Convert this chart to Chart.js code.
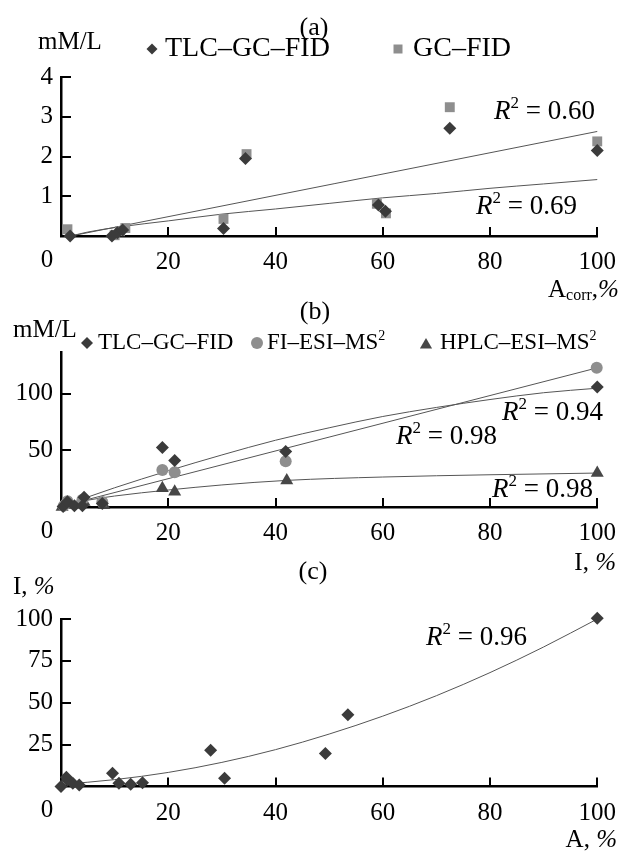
<!DOCTYPE html>
<html>
<head>
<meta charset="utf-8">
<script src="https://cdn.jsdelivr.net/npm/chart.js@4.4.1/dist/chart.umd.min.js"></script>
<style>
  html, body { margin: 0; padding: 0; background: #fff; }
  body { width: 630px; height: 853px; position: relative; overflow: hidden; }
  canvas { position: absolute; left: 0; }
</style>
</head>
<body>
<canvas id="chartA" width="630" height="305" style="top:0px"></canvas>
<canvas id="chartB" width="630" height="285" style="top:298px"></canvas>
<canvas id="chartC" width="630" height="293" style="top:560px"></canvas>
<script>
// ---- panel (a): mM/L vs A_corr, % ----
const aTlcX = [1.7, 9.5, 10.5, 11.5, 30.3, 34.4, 59.2, 60.5, 72.5, 100];
const aTlcY = [0.0, 0.0, 0.08, 0.15, 0.19, 1.95, 0.78, 0.62, 2.71, 2.15];
const aGcX = [1.2, 10, 11, 12, 30.3, 34.6, 58.9, 60.6, 72.5, 100];
const aGcY = [0.17, 0.02, 0.12, 0.2, 0.43, 2.06, 0.81, 0.57, 3.24, 2.38];
const aFitUpX = [1.85, 100];
const aFitUpY = [0.0, 2.63];
const aFitLowX = [1.85, 5, 11, 20, 30, 40, 50, 60, 70, 80, 90, 100];
const aFitLowY = [0.0, 0.1, 0.23, 0.38, 0.55, 0.68, 0.82, 0.96, 1.07, 1.2, 1.31, 1.42];
const aYTicks = [1, 2, 3, 4];

// ---- panel (b): mM/L vs I, % ----
const bTlcX = [0.4, 1.2, 2.5, 4.3, 4.0, 7.7, 18.9, 21.2, 41.9, 100];
const bTlcY = [0.5, 4.7, 1.0, 8.6, 1.0, 3.0, 52.6, 41.0, 49.0, 106];
const bFiX = [0.5, 1.2, 4.0, 7.7, 18.9, 21.2, 41.9, 99.9];
const bFiY = [1.0, 5.0, 6.5, 4.4, 32.7, 30.7, 40.4, 123];
const bHplcX = [0.2, 1.0, 4.3, 8.0, 18.9, 21.2, 42.1, 100];
const bHplcY = [0.0, 2.0, 4.4, 1.5, 16.5, 13.5, 23.4, 30];
const bFitTlcX = [0.3, 10, 20, 30, 40, 50, 60, 70, 80, 90, 100];
const bFitTlcY = [0.9, 17, 32, 46, 59, 70, 80, 88, 95, 101, 105];
const bFitFiX = [0.3, 100];
const bFitFiY = [0.9, 123];
const bFitHplcX = [0.3, 5, 10, 20, 30, 42, 60, 80, 100];
const bFitHplcY = [0.9, 6, 9.7, 15, 19.5, 23.5, 26.5, 28.5, 30];
const bYTicks = [50, 100];

// ---- panel (c): I, % vs A, % ----
const cX = [0, 1.0, 1.2, 2.2, 3.4, 9.6, 10.8, 13.0, 15.2, 27.9, 30.5, 49.3, 53.5, 100];
const cY = [0, 5.5, 3.9, 1.9, 0.9, 7.9, 1.9, 1.3, 2.3, 21.7, 4.9, 19.7, 42.9, 100.4];
const cFitX = [0, 10, 20, 30, 40, 50, 60, 70, 80, 90, 100];
const cFitY = [1.2, 4.1, 8.4, 14.4, 22, 31.3, 42, 54.2, 68, 83.3, 100];
const cYTicks = [25, 50, 75, 100];

const xTicks = [0, 20, 40, 60, 80, 100];

const FONT = '"Liberation Serif", "Times New Roman", serif';
const DARK = '#3b3b3b';
const GRAY = '#8e8e8e';
const LINE = '#555555';

function pts(xs, ys) {
  return xs.map((x, i) => ({ x: x, y: ys[i] }));
}

function markers(label, xs, ys, style, radius, color) {
  return {
    label: label,
    data: pts(xs, ys),
    pointStyle: style,
    pointRadius: radius,
    backgroundColor: color,
    borderColor: color,
    borderWidth: 0,
    showLine: false,
    clip: false,
    order: 0,
  };
}

function fitLine(xs, ys) {
  return {
    data: pts(xs, ys),
    showLine: true,
    pointRadius: 0,
    borderColor: LINE,
    borderWidth: 1,
    cubicInterpolationMode: "monotone",
    clip: false,
    order: 1,
  };
}

// rich text: italic, superscript, subscript pieces
function rich(ctx, x, y, parts, size, align) {
  let total = 0;
  const items = parts.map((p) => {
    const s = p.sup || p.sub ? Math.round(size * 0.62) : size;
    const f = (p.i ? "italic " : "") + s + "px " + FONT;
    ctx.font = f;
    const w = ctx.measureText(p.t).width;
    total += w;
    return { t: p.t, f: f, w: w, dy: p.sup ? -size * 0.3 : p.sub ? size * 0.25 : 0 };
  });
  let cx = align === "center" ? x - total / 2 : align === "right" ? x - total : x;
  ctx.textAlign = "left";
  ctx.textBaseline = "middle";
  ctx.fillStyle = "#000";
  items.forEach((it) => {
    ctx.font = it.f;
    ctx.fillText(it.t, cx, y + it.dy);
    cx += it.w;
  });
}

function r2(ctx, x, y, val, size) {
  rich(ctx, x, y, [{ t: "R", i: true }, { t: "2", sup: true }, { t: " = " + val }], size);
}

function marker(ctx, style, x, y, r, color) {
  ctx.save();
  ctx.fillStyle = color;
  ctx.beginPath();
  if (style === "rectRot") {
    ctx.moveTo(x - r, y); ctx.lineTo(x, y - r); ctx.lineTo(x + r, y); ctx.lineTo(x, y + r);
  } else if (style === "rect") {
    ctx.rect(x - r, y - r, 2 * r, 2 * r);
  } else if (style === "circle") {
    ctx.arc(x, y, r, 0, Math.PI * 2);
  } else if (style === "triangle") {
    ctx.moveTo(x, y - r); ctx.lineTo(x + r * 0.87, y + r * 0.5); ctx.lineTo(x - r * 0.87, y + r * 0.5);
  }
  ctx.closePath();
  ctx.fill();
  ctx.restore();
}

// inward tick marks plus the offset "0" at the origin
const inwardTicks = {
  id: "inwardTicks",
  afterDraw(chart) {
    const { ctx, chartArea } = chart;
    const xs = chart.scales.x;
    const ys = chart.scales.y;
    ctx.save();
    ctx.strokeStyle = "#000";
    ctx.lineWidth = 2;
    ctx.beginPath();
    xs.ticks.forEach((t) => {
      if (t.value === 0) return;
      const px = Math.round(xs.getPixelForValue(t.value));
      ctx.moveTo(px, chartArea.bottom);
      ctx.lineTo(px, chartArea.bottom - 9);
    });
    ys.ticks.forEach((t) => {
      if (t.value === 0) return;
      const py = Math.round(ys.getPixelForValue(t.value));
      ctx.moveTo(chartArea.left, py);
      ctx.lineTo(chartArea.left + 10, py);
    });
    ctx.stroke();
    ctx.fillStyle = "#000";
    ctx.font = "25px " + FONT;
    ctx.textAlign = "center";
    ctx.textBaseline = "middle";
    ctx.fillText("0", xs.getPixelForValue(0) - 14, chartArea.bottom + 24);
    ctx.restore();
  },
};

function makeChart(id, datasets, yMin, yMax, yTicks, padding, notes) {
  const ctx = document.getElementById(id).getContext("2d");
  return new Chart(ctx, {
    type: "scatter",
    data: { datasets: datasets },
    options: {
      responsive: false,
      animation: false,
      events: [],
      layout: { padding: padding },
      plugins: { legend: { display: false }, tooltip: { enabled: false } },
      scales: {
        x: {
          type: "linear",
          min: 0,
          max: 100,
          afterBuildTicks: (s) => { s.ticks = xTicks.map((v) => ({ value: v })); },
          afterFit: (s) => { s.height = 40; },
          ticks: {
            color: "#000",
            padding: 14,
            maxRotation: 0,
            font: { family: FONT, size: 25, lineHeight: 1 },
            callback: (v) => (v === 0 ? "" : v),
          },
          grid: { display: true, drawOnChartArea: false, drawTicks: false },
          border: { display: true, color: "#000", width: 2.5 },
        },
        y: {
          type: "linear",
          min: yMin,
          max: yMax,
          afterBuildTicks: (s) => { s.ticks = yTicks.map((v) => ({ value: v })); },
          afterFit: (s) => { s.width = 61; },
          ticks: {
            color: "#000",
            padding: 8,
            font: { family: FONT, size: 25, lineHeight: 1 },
          },
          grid: { display: true, drawOnChartArea: false, drawTicks: false },
          border: { display: true, color: "#000", width: 2.5 },
        },
      },
    },
    plugins: [inwardTicks, { id: "notes", afterDraw: (chart) => notes(chart.ctx) }],
  });
}

makeChart(
  "chartA",
  [
    markers("TLC–GC–FID", aTlcX, aTlcY, "rectRot", 6.5, DARK),
    markers("GC–FID", aGcX, aGcY, "rect", 7, GRAY),
    fitLine(aFitUpX, aFitUpY),
    fitLine(aFitLowX, aFitLowY),
  ],
  0, 4, aYTicks,
  { top: 77, right: 31, bottom: 29, left: 0 },
  (ctx) => {
    rich(ctx, 314, 28, [{ t: "(a)" }], 26, "center");
    rich(ctx, 38, 42, [{ t: "mM/L" }], 25);
    marker(ctx, "rectRot", 152, 49, 5.5, DARK);
    rich(ctx, 165, 49, [{ t: "TLC–GC–FID" }], 28);
    marker(ctx, "rect", 398, 49, 4.5, GRAY);
    rich(ctx, 413, 49, [{ t: "GC–FID" }], 28);
    r2(ctx, 494, 112, "0.60", 27);
    r2(ctx, 476, 207, "0.69", 27);
    rich(ctx, 548, 290, [{ t: "A" }, { t: "corr", sub: true }, { t: "," }, { t: "%", i: true }], 25);
  }
);

makeChart(
  "chartB",
  [
    markers("TLC–GC–FID", bTlcX, bTlcY, "rectRot", 6.5, DARK),
    markers("FI–ESI–MS2", bFiX, bFiY, "circle", 6, GRAY),
    markers("HPLC–ESI–MS2", bHplcX, bHplcY, "triangle", 7.5, "#474747"),
    fitLine(bFitTlcX, bFitTlcY),
    fitLine(bFitFiX, bFitFiY),
    fitLine(bFitHplcX, bFitHplcY),
  ],
  0, 137, bYTicks,
  { top: 54, right: 31, bottom: 36, left: 0 },
  (ctx) => {
    rich(ctx, 315, 14, [{ t: "(b)" }], 26, "center");
    rich(ctx, 13, 32, [{ t: "mM/L" }], 25);
    marker(ctx, "rectRot", 87, 45, 6, DARK);
    rich(ctx, 98, 45, [{ t: "TLC–GC–FID" }], 23);
    marker(ctx, "circle", 257, 45, 6, GRAY);
    rich(ctx, 267, 45, [{ t: "FI–ESI–MS" }, { t: "2", sup: true }], 23);
    marker(ctx, "triangle", 426, 47, 7, "#474747");
    rich(ctx, 440, 45, [{ t: "HPLC–ESI–MS" }, { t: "2", sup: true }], 23);
    r2(ctx, 502, 115, "0.94", 27);
    r2(ctx, 396, 139, "0.98", 27);
    r2(ctx, 492, 192, "0.98", 27);
    rich(ctx, 616, 265, [{ t: "I, " }, { t: "%", i: true }], 25, "right");
  }
);

makeChart(
  "chartC",
  [
    markers("I", cX, cY, "rectRot", 6.5, DARK),
    fitLine(cFitX, cFitY),
  ],
  0, 100, cYTicks,
  { top: 59, right: 31, bottom: 26.5, left: 0 },
  (ctx) => {
    rich(ctx, 313, 12, [{ t: "(c)" }], 26, "center");
    rich(ctx, 13, 27, [{ t: "I, " }, { t: "%", i: true }], 25);
    r2(ctx, 426, 78, "0.96", 27);
    rich(ctx, 617, 280, [{ t: "A, " }, { t: "%", i: true }], 25, "right");
  }
);
</script>
</body>
</html>
